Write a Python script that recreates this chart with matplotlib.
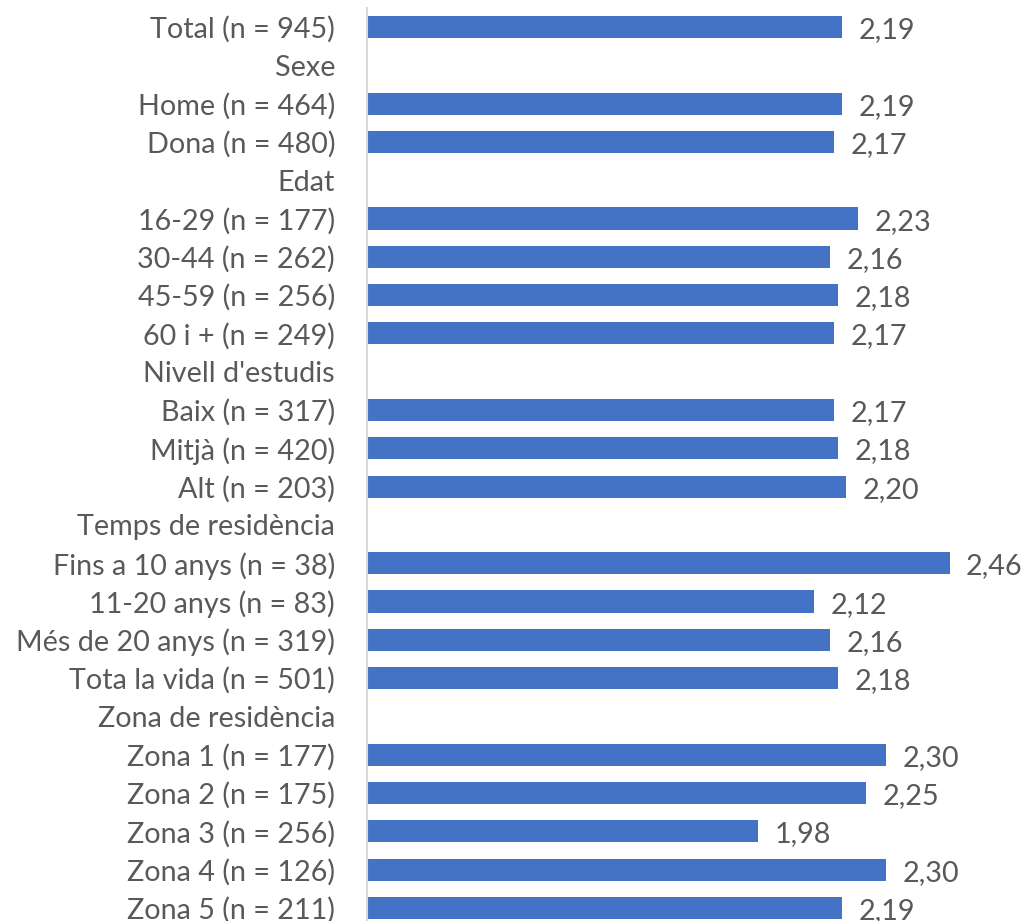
import numpy as np
import matplotlib
matplotlib.use("Agg")
import matplotlib.pyplot as plt

# rows from top to bottom; group headers have no bar
labels = [
    "Total (n = 945)", "Sexe", "Home (n = 464)", "Dona (n = 480)",
    "Edat", "16-29 (n = 177)", "30-44 (n = 262)", "45-59 (n = 256)", "60 i + (n = 249)",
    "Nivell d'estudis", "Baix (n = 317)", "Mitjà (n = 420)", "Alt (n = 203)",
    "Temps de residència", "Fins a 10 anys (n = 38)", "11-20 anys (n = 83)",
    "Més de 20 anys (n = 319)", "Tota la vida (n = 501)",
    "Zona de residència", "Zona 1 (n = 177)", "Zona 2 (n = 175)", "Zona 3 (n = 256)",
    "Zona 4 (n = 126)", "Zona 5 (n = 211)",
]
values = [
    2.19, np.nan, 2.19, 2.17,
    np.nan, 2.23, 2.16, 2.18, 2.17,
    np.nan, 2.17, 2.18, 2.20,
    np.nan, 2.46, 2.12, 2.16, 2.18,
    np.nan, 2.30, 2.25, 1.98, 2.30, 2.19,
]

BAR = "#4472C4"
TXT = "#595959"
X0 = 1.0

plt.rcParams["font.family"] = ["Lato", "DejaVu Sans"]

W, H = 1025, 921
fig = plt.figure(figsize=(W / 100, H / 100), dpi=100)

n = len(labels)
pitch = 38.3
top_px = 27 - pitch / 2
bot_px = top_px + pitch * n
left_px, right_px = 367, 1000
ax = fig.add_axes([left_px / W, (H - bot_px) / H,
                   (right_px - left_px) / W, (bot_px - top_px) / H])

y = np.arange(n)
vals = np.array(values)
has = ~np.isnan(vals)
ax.barh(y[has], vals[has] - X0, left=X0, height=0.575, color=BAR)

for yi, v in zip(y[has], vals[has]):
    ax.text(v + 0.04, yi + 0.08, f"{v:.2f}".replace(".", ","), va="center",
            ha="left", fontsize=20.7, color=TXT)

ax.set_xlim(X0, X0 + (right_px - left_px) / 399.4)
ax.set_ylim(n - 0.5, -0.5)
ax.set_yticks(y)
ax.set_yticklabels(labels, fontsize=20.7, color=TXT)
ax.tick_params(axis="y", length=0, pad=23)
ax.set_xticks([])
for s in ["top", "right", "bottom"]:
    ax.spines[s].set_visible(False)
ax.spines["left"].set_color("#D9D9D9")
ax.spines["left"].set_linewidth(1.5)

fig.savefig("out.png", dpi=100)
